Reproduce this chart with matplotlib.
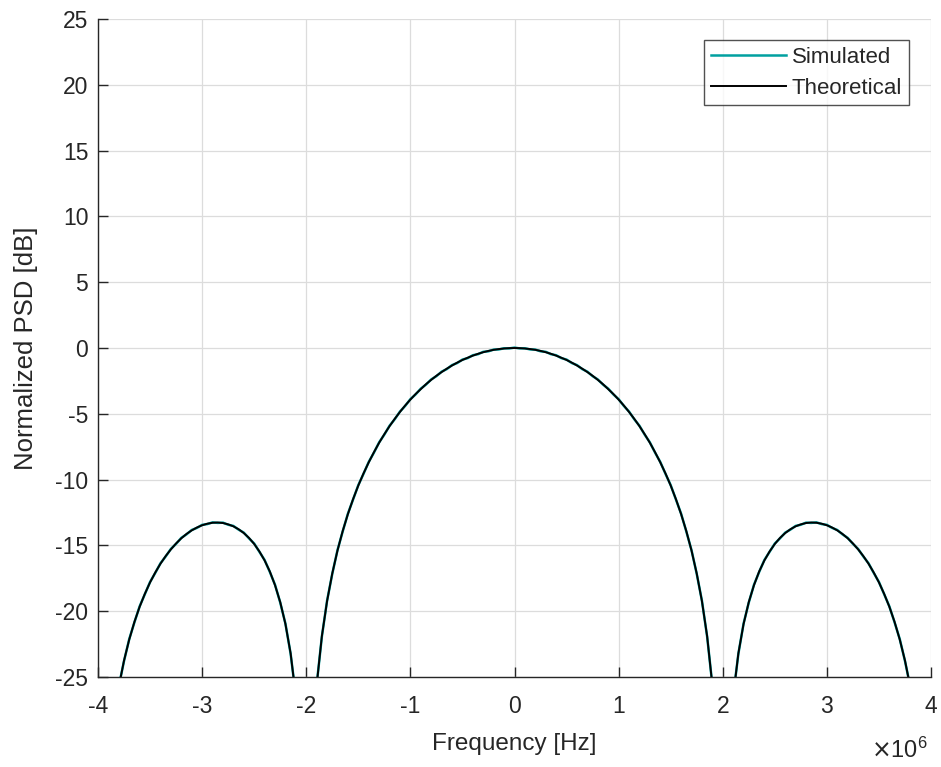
import numpy as np
import matplotlib
matplotlib.use("Agg")
import matplotlib.pyplot as plt

# Frequency samples in MHz (non-negative half; curve is symmetric about 0)
freq_mhz = [0.00, 0.05, 0.10, 0.15, 0.20, 0.25, 0.30, 0.35, 0.40, 0.45, 0.50, 0.55, 0.60,
            0.65, 0.70, 0.75, 0.80, 0.85, 0.90, 0.95, 1.00, 1.05, 1.10, 1.15, 1.20, 1.25,
            1.30, 1.35, 1.40, 1.45, 1.50, 1.55, 1.60, 1.65, 1.70, 1.75, 1.80, 1.85, 1.90,
            1.95, 2.00, 2.05, 2.10, 2.15, 2.20, 2.25, 2.30, 2.35, 2.40, 2.45, 2.50, 2.55,
            2.60, 2.65, 2.70, 2.75, 2.80, 2.85, 2.90, 2.95, 3.00, 3.05, 3.10, 3.15, 3.20,
            3.25, 3.30, 3.35, 3.40, 3.45, 3.50, 3.55, 3.60, 3.65, 3.70, 3.75, 3.80, 3.85,
            3.90, 3.95, 4.00]
# Theoretical normalized PSD [dB]
theory_db = [0.00, -0.01, -0.04, -0.08, -0.14, -0.22, -0.32, -0.44, -0.58, -0.74, -0.91,
             -1.11, -1.33, -1.57, -1.83, -2.11, -2.42, -2.75, -3.12, -3.50, -3.92, -4.37,
             -4.86, -5.38, -5.94, -6.55, -7.20, -7.92, -8.69, -9.53, -10.45, -11.48, -12.62,
             -13.91, -15.39, -17.13, -19.23, -21.90, -25.61, -32.5, -60.0, -32.8, -26.48,
             -23.21, -20.97, -19.31, -18.02, -16.98, -16.14, -15.46, -14.89, -14.43, -14.06,
             -13.77, -13.55, -13.40, -13.30, -13.26, -13.28, -13.35, -13.47, -13.64, -13.86,
             -14.13, -14.46, -14.85, -15.30, -15.81, -16.39, -17.06, -17.81, -18.68, -19.66,
             -20.81, -22.15, -23.75, -25.72, -28.2, -31.86, -38.0, -60.0]
# Simulated normalized PSD [dB]
sim_db = [0.03, -0.03, -0.02, -0.11, -0.12, -0.25, -0.29, -0.47, -0.55, -0.77, -0.88,
          -1.14, -1.30, -1.60, -1.80, -2.14, -2.39, -2.78, -3.09, -3.53, -3.89, -4.40,
          -4.83, -5.41, -5.91, -6.58, -7.17, -7.95, -8.66, -9.56, -10.42, -11.51, -12.59,
          -13.94, -15.36, -17.16, -19.20, -21.93, -25.58, -32.4, -58.0, -32.7, -26.45,
          -23.24, -20.94, -19.34, -17.99, -17.01, -16.11, -15.49, -14.86, -14.46, -14.03,
          -13.80, -13.52, -13.43, -13.27, -13.29, -13.25, -13.38, -13.44, -13.67, -13.83,
          -14.16, -14.43, -14.88, -15.27, -15.84, -16.36, -17.09, -17.78, -18.71, -19.63,
          -20.84, -22.12, -23.78, -25.69, -28.23, -31.83, -37.8, -58.5]

f_half = np.array(freq_mhz) * 1e6
f_full = np.concatenate([-f_half[::-1], f_half[1:]])
th_full = np.concatenate([np.array(theory_db)[::-1], np.array(theory_db)[1:]])
sim_full = np.concatenate([np.array(sim_db)[::-1], np.array(sim_db)[1:]])

plt.rcParams['font.family'] = ['Liberation Sans', 'DejaVu Sans']
TXT = '#262626'

fig = plt.figure(figsize=(9.41, 7.67), dpi=100)
ax = fig.add_axes([98/941, 1 - 677/767, (931-98)/941, (677-19)/767])

ax.plot(f_full, sim_full, color='#00a0a0', lw=1.8, label='Simulated')
ax.plot(f_full, th_full, color='black', lw=1.4, label='Theoretical')

ax.set_xlim(-4e6, 4e6)
ax.set_ylim(-25, 25)
ax.set_xticks(np.arange(-4, 5, 1) * 1e6)
ax.set_xticklabels([str(v) for v in range(-4, 5)])
ax.set_yticks(np.arange(-25, 26, 5))
ax.set_yticklabels([str(v) for v in range(-25, 26, 5)])

ax.grid(True, color='#dcdcdc', lw=0.9)
ax.set_axisbelow(True)
for s in ['top', 'right']:
    ax.spines[s].set_visible(False)
for s in ['left', 'bottom']:
    ax.spines[s].set_color(TXT)
    ax.spines[s].set_linewidth(1.0)
ax.tick_params(direction='in', length=7, width=1, colors=TXT, labelsize=16.5,
               labelcolor=TXT)
ax.tick_params(axis='y', pad=7)
ax.tick_params(axis='x', pad=13)

ax.set_xlabel('Frequency [Hz]', fontsize=17.5, color=TXT, labelpad=11)
ax.set_ylabel('Normalized PSD [dB]', fontsize=18.5, color=TXT, labelpad=12)

fig.text(871/941, 1 - 750/767, r'$\times\mathregular{10^{6}}$', fontsize=17, color=TXT,
         ha='left', va='center')

leg = ax.legend(loc='upper right', bbox_to_anchor=(909/941, 1 - 40/767),
                bbox_transform=fig.transFigure, fontsize=16, frameon=True, fancybox=False,
                edgecolor=TXT, handlelength=3.4, handletextpad=0.25, borderpad=0.3,
                labelspacing=0.45, borderaxespad=0)
leg.get_frame().set_linewidth(1.0)
for t in leg.get_texts():
    t.set_color(TXT)

fig.savefig('out.png', dpi=100)
